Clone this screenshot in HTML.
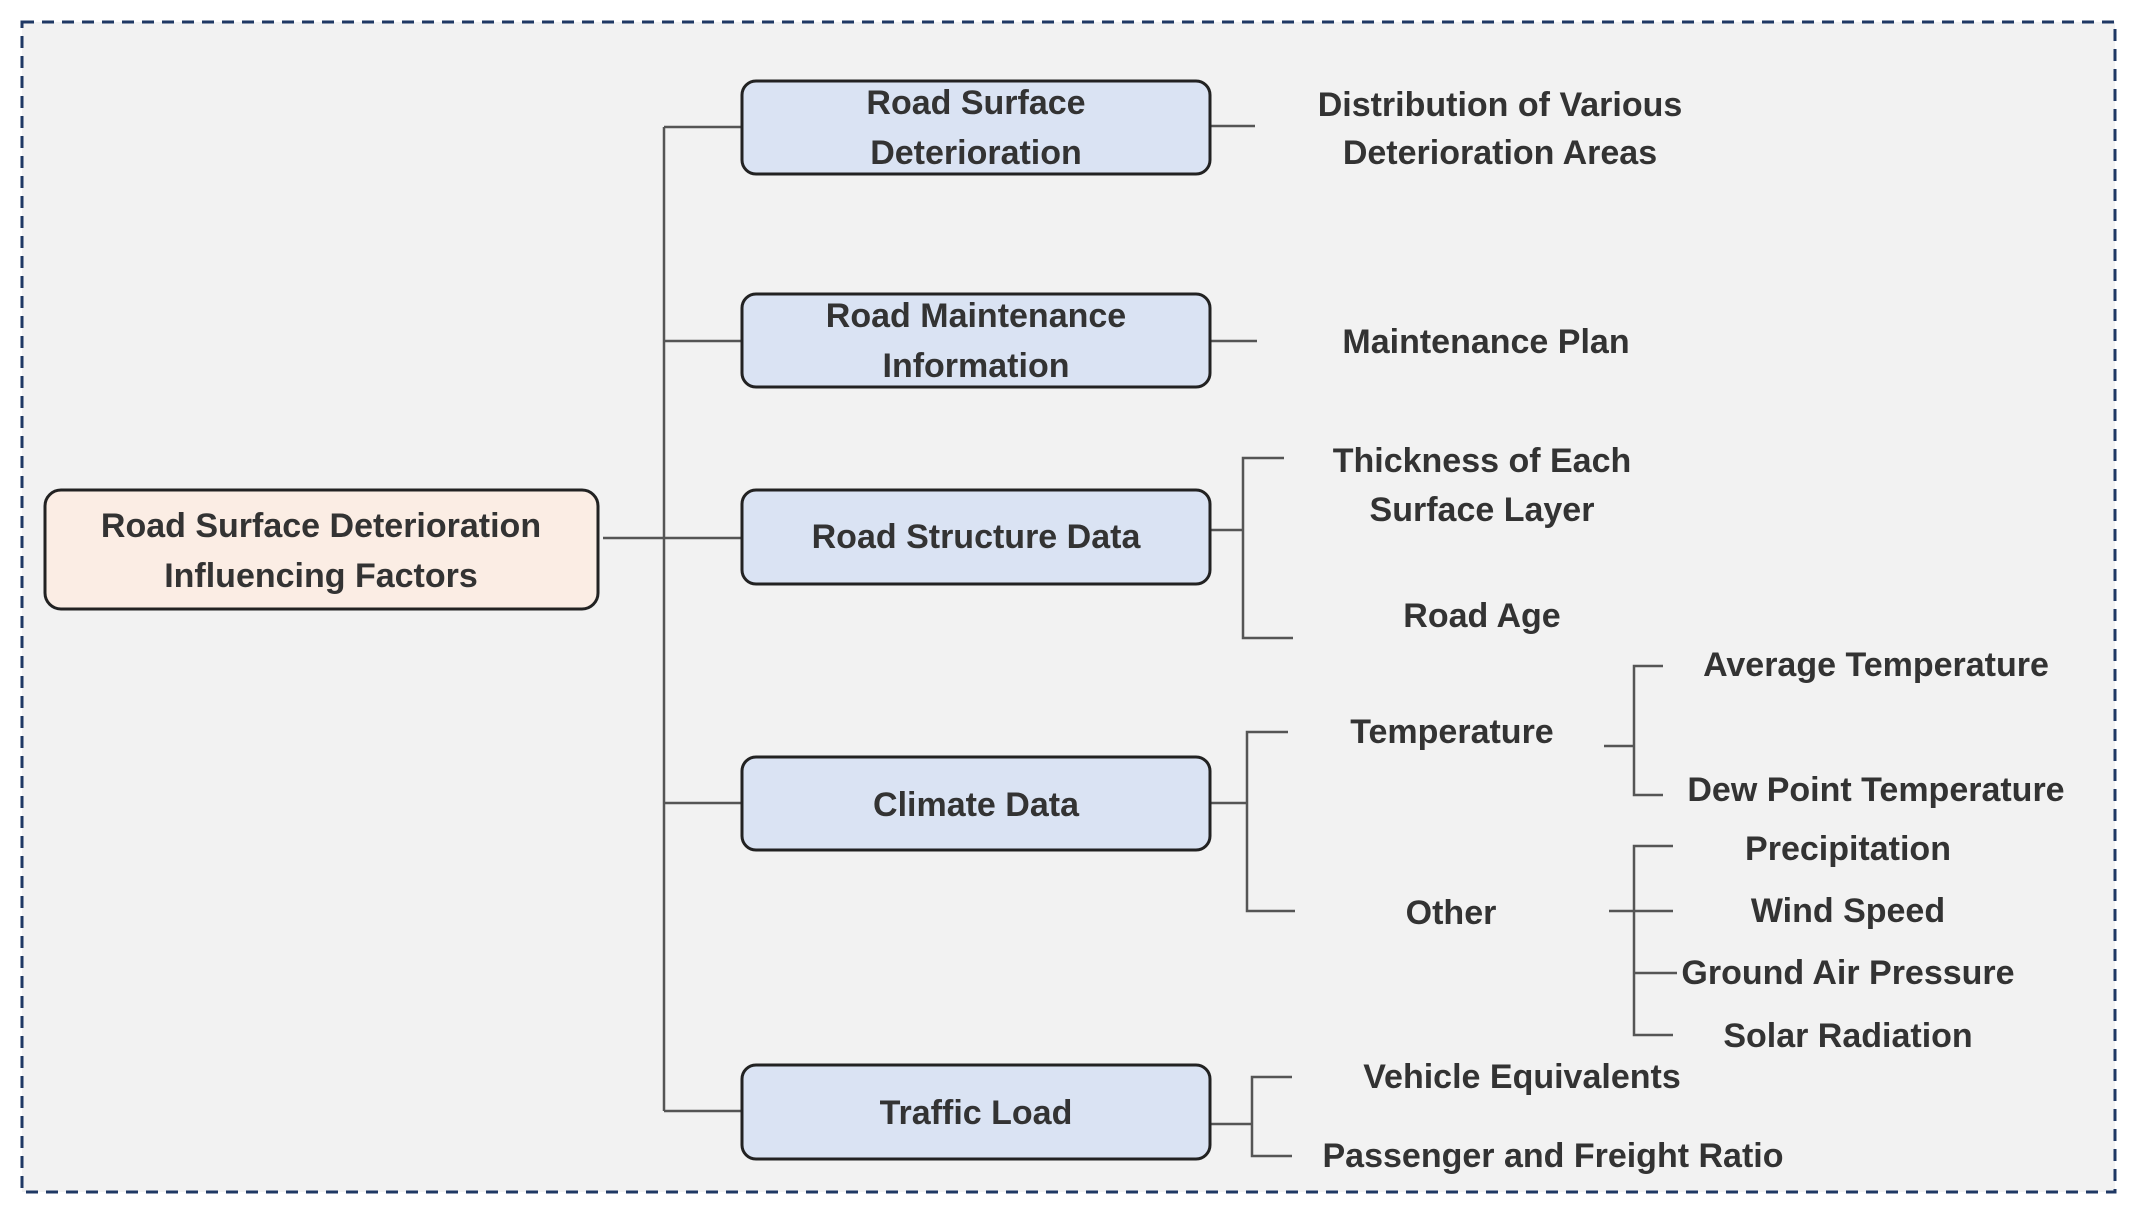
<!DOCTYPE html>
<html><head><meta charset="utf-8"><style>
html,body{margin:0;padding:0;background:#fff;}
svg{display:block;}
text{font-family:"Liberation Sans",sans-serif;font-weight:bold;fill:#333;font-size:34px;text-anchor:middle;dominant-baseline:central;}
</style></head><body>
<svg width="2135" height="1210" viewBox="0 0 2135 1210" xmlns="http://www.w3.org/2000/svg">
<rect x="22" y="22" width="2093" height="1170" fill="#f2f2f2" stroke="#1f3864" stroke-width="3" stroke-dasharray="12,8"/>
<g stroke="#555" stroke-width="2.5" fill="none">
<!-- trunk -->
<line x1="664" y1="127" x2="664" y2="1111"/>
<line x1="603" y1="538" x2="742" y2="538"/>
<line x1="664" y1="127" x2="742" y2="127"/>
<line x1="664" y1="341" x2="742" y2="341"/>
<line x1="664" y1="803" x2="742" y2="803"/>
<line x1="664" y1="1111" x2="742" y2="1111"/>
<!-- right stubs -->
<line x1="1210" y1="126" x2="1255" y2="126"/>
<line x1="1210" y1="341" x2="1257" y2="341"/>
<!-- box3 bracket -->
<line x1="1210" y1="530" x2="1243" y2="530"/>
<polyline points="1284,458 1243,458 1243,638 1293,638"/>
<!-- box4 bracket -->
<line x1="1210" y1="803" x2="1247" y2="803"/>
<polyline points="1288,732 1247,732 1247,911 1295,911"/>
<!-- box5 bracket -->
<line x1="1210" y1="1124" x2="1252" y2="1124"/>
<polyline points="1292,1077 1252,1077 1252,1156 1292,1156"/>
<!-- temperature -->
<line x1="1604" y1="746" x2="1634" y2="746"/>
<polyline points="1663,666 1634,666 1634,795 1663,795"/>
<!-- other -->
<line x1="1609" y1="911" x2="1673" y2="911"/>
<polyline points="1673,846 1634,846 1634,1035 1673,1035"/>
<line x1="1634" y1="973" x2="1677" y2="973"/>
</g>
<!-- boxes -->
<rect x="45" y="490" width="553" height="119" rx="16" fill="#fbede4" stroke="#222" stroke-width="3"/>
<g fill="#dae3f3" stroke="#222" stroke-width="3">
<rect x="742" y="81" width="468" height="93" rx="14"/>
<rect x="742" y="294" width="468" height="93" rx="14"/>
<rect x="742" y="490" width="468" height="94" rx="14"/>
<rect x="742" y="757" width="468" height="93" rx="14"/>
<rect x="742" y="1065" width="468" height="94" rx="14"/>
</g>
<text x="321" y="526">Road Surface Deterioration</text>
<text x="321" y="576">Influencing Factors</text>
<text x="976" y="103">Road Surface</text>
<text x="976" y="153">Deterioration</text>
<text x="976" y="316">Road Maintenance</text>
<text x="976" y="366">Information</text>
<text x="976" y="537">Road Structure Data</text>
<text x="976" y="805">Climate Data</text>
<text x="976" y="1113">Traffic Load</text>
<text x="1500" y="105">Distribution of Various</text>
<text x="1500" y="153">Deterioration Areas</text>
<text x="1486" y="342">Maintenance Plan</text>
<text x="1482" y="461">Thickness of Each</text>
<text x="1482" y="510">Surface Layer</text>
<text x="1482" y="616">Road Age</text>
<text x="1452" y="732">Temperature</text>
<text x="1451" y="913">Other</text>
<text x="1876" y="665">Average Temperature</text>
<text x="1876" y="790">Dew Point Temperature</text>
<text x="1848" y="849">Precipitation</text>
<text x="1848" y="911">Wind Speed</text>
<text x="1848" y="973">Ground Air Pressure</text>
<text x="1848" y="1036">Solar Radiation</text>
<text x="1522" y="1077">Vehicle Equivalents</text>
<text x="1553" y="1156">Passenger and Freight Ratio</text>
</svg>
</body></html>
